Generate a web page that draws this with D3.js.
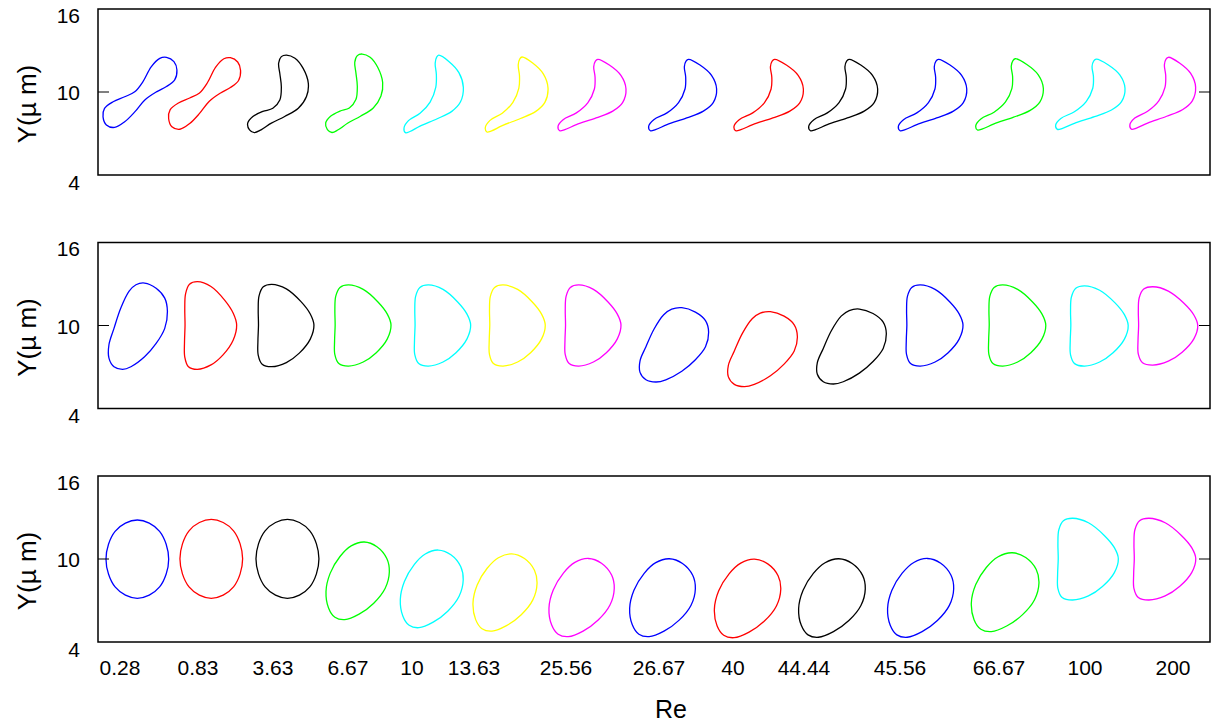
<!DOCTYPE html>
<html>
<head>
<meta charset="utf-8">
<script src="https://cdn.jsdelivr.net/npm/d3@7"></script>
<style>
  body { margin: 0; background: #fff; }
  text { font-family: "Liberation Sans", Arial, sans-serif; fill: #000; }
</style>
</head>
<body>
<svg id="chart"></svg>
<script>
// Re values under the bottom panel, and where they sit along the strip (um)
const reLabels = ["0.28", "0.83", "3.63", "6.67", "10", "13.63", "25.56", "26.67", "40", "44.44", "45.56", "66.67", "100", "200"];
const reTickX = [1.58, 7.19, 12.59, 17.99, 22.59, 27.05, 33.67, 40.36, 45.68, 50.79, 57.7, 64.82, 71.01, 77.34];

const cellColors = ["#0000ff", "#ff0000", "#000000", "#00ff00", "#00ffff", "#ffff00", "#ff00ff",
                    "#0000ff", "#ff0000", "#000000", "#0000ff", "#00ff00", "#00ffff", "#ff00ff"];

const yTicks = [4, 10, 16];

// outline templates, unit box [-1,1], y up
const templates = {
    S: [[0.71, 1.0], [0.91, 0.88], [0.99, 0.64], [0.93, 0.36], [0.71, 0.17], [0.44, 0.02], [0.13, -0.21],
        [-0.14, -0.55], [-0.41, -0.83], [-0.68, -0.99], [-0.9, -0.92], [-0.99, -0.69], [-0.95, -0.45],
        [-0.72, -0.26], [-0.41, -0.12], [-0.14, 0.02], [0.08, 0.31], [0.3, 0.73], [0.53, 0.97]],
    crescA: [[0.28, 1.0], [0.56, 0.92], [0.83, 0.66], [1.0, 0.28], [0.94, -0.06], [0.67, -0.36], [0.22, -0.57],
        [-0.22, -0.74], [-0.56, -0.91], [-0.78, -0.98], [-0.94, -0.91], [-1.0, -0.74], [-0.83, -0.57],
        [-0.5, -0.44], [-0.17, -0.36], [0.06, -0.15], [0.11, 0.19], [0.06, 0.53], [0.02, 0.79], [0.11, 0.96]],
    crescB: [[0.17, 1.0], [0.51, 0.84], [0.85, 0.55], [1.0, 0.17], [0.9, -0.21], [0.61, -0.45], [0.12, -0.64],
        [-0.46, -0.83], [-0.8, -0.97], [-0.95, -1.0], [-1.0, -0.88], [-0.85, -0.69], [-0.46, -0.5],
        [-0.12, -0.21], [0.07, 0.17], [0.09, 0.5], [0.05, 0.79], [0.1, 0.95]],
    egg: [[0.22, 1.0], [0.61, 0.88], [0.9, 0.65], [0.99, 0.34], [0.9, -0.05], [0.61, -0.4], [0.22, -0.71],
        [-0.24, -0.94], [-0.52, -1.0], [-0.81, -0.94], [-0.98, -0.74], [-0.98, -0.43], [-0.81, -0.05],
        [-0.58, 0.42], [-0.3, 0.81], [-0.07, 0.96]],
    D: [[-0.5, 1.0], [0.02, 0.89], [0.54, 0.58], [0.87, 0.28], [1.0, 0.01], [0.87, -0.33], [0.48, -0.67],
        [0.02, -0.9], [-0.5, -1.0], [-0.84, -0.94], [-0.98, -0.72], [-0.99, -0.37], [-0.97, 0.01],
        [-0.98, 0.39], [-0.95, 0.72], [-0.8, 0.94]],
    ellipse: [[0, 1], [0.38, 0.92], [0.71, 0.71], [0.92, 0.38], [1, 0], [0.92, -0.38], [0.71, -0.71],
        [0.38, -0.92], [0, -1], [-0.38, -0.92], [-0.71, -0.71], [-0.92, -0.38], [-1, 0], [-0.92, 0.38],
        [-0.71, 0.71], [-0.38, 0.92]],
    tilt: [[0.21, 0.98], [0.61, 0.86], [0.92, 0.56], [1.0, 0.22], [0.87, -0.2], [0.51, -0.58], [0.05, -0.86],
        [-0.4, -1.0], [-0.71, -0.94], [-0.91, -0.7], [-0.99, -0.28], [-0.86, 0.18], [-0.55, 0.61], [-0.2, 0.88]]
};

// top panel: centre x, centre y, width, height (um)
const p1Shape = ["S", "S", "crescA", "crescA", "crescB", "crescB", "crescB", "crescB", "crescB", "crescB", "crescB", "crescB", "crescB", "crescB"];
const p1X = [3.02, 7.67, 12.95, 18.43, 24.15, 30.12, 35.54, 42.06, 48.25, 53.61, 60.04, 65.58, 71.39, 76.6];
const p1Y = [9.96, 9.88, 9.84, 9.88, 9.86, 9.82, 9.78, 9.78, 9.78, 9.78, 9.78, 9.83, 9.84, 9.91];
const p1W = [5.37, 5.23, 4.36, 4.1, 4.27, 4.51, 4.89, 4.89, 4.99, 4.96, 4.92, 4.86, 4.99, 4.73];
const p1H = [5.09, 5.2, 5.66, 5.73, 5.6, 5.42, 5.16, 5.16, 5.16, 5.16, 5.16, 5.15, 5.08, 5.2];

// middle panel
const p2Shape = ["egg", "D", "D", "D", "D", "D", "D", "egg", "egg", "egg", "D", "D", "D", "D"];
const p2X = [2.88, 8.09, 13.51, 19.04, 24.78, 30.15, 35.6, 41.45, 47.82, 54.22, 60.18, 66.12, 72.02, 76.96];
const p2Y = [9.95, 10.0, 10.0, 10.0, 10.0, 10.0, 10.0, 8.6, 8.29, 8.48, 10.0, 10.0, 9.97, 9.97];
const p2W = [4.27, 3.77, 4.05, 4.08, 4.06, 4.05, 4.05, 5.01, 5.04, 5.04, 4.1, 4.13, 4.19, 4.32];
const p2H = [6.24, 6.33, 5.96, 5.86, 5.86, 5.86, 5.86, 5.37, 5.42, 5.42, 5.86, 5.86, 5.8, 5.66];

// bottom panel
const p3Shape = ["ellipse", "ellipse", "ellipse", "tilt", "tilt", "tilt", "tilt", "tilt", "tilt", "tilt", "tilt", "tilt", "D", "D"];
const p3X = [2.83, 8.15, 13.63, 18.67, 24.0, 29.27, 34.78, 40.6, 46.72, 52.79, 59.17, 65.25, 71.21, 76.73];
const p3Y = [9.99, 10.01, 10.01, 8.45, 7.87, 7.61, 7.24, 7.23, 7.18, 7.21, 7.22, 7.63, 9.99, 9.99];
const p3W = [4.51, 4.51, 4.53, 4.58, 4.55, 4.63, 4.72, 4.75, 4.8, 4.82, 4.78, 4.89, 4.39, 4.49];
const p3H = [5.66, 5.71, 5.71, 5.67, 5.67, 5.64, 5.71, 5.69, 5.74, 5.73, 5.75, 5.76, 5.91, 5.91];

const panels = [
    { shape: p1Shape, x: p1X, y: p1Y, w: p1W, h: p1H },
    { shape: p2Shape, x: p2X, y: p2Y, w: p2W, h: p2H },
    { shape: p3Shape, x: p3X, y: p3Y, w: p3W, h: p3H }
];

const width = 1211, height = 725;
const left = 98, right = 1210;
const panelTops = [9, 242.5, 476];
const panelH = 166;

const svg = d3.select("#chart")
    .attr("width", width)
    .attr("height", height);

const x = d3.scaleLinear()
    .domain([0, 80])
    .range([left, right]);

panels.forEach((p, pi) => {
    const top = panelTops[pi];
    const y = d3.scaleLinear()
        .domain([4, 16])
        .range([top + panelH, top]);

    const g = svg.append("g");

    // the cells
    p.shape.forEach((name, i) => {
        const line = d3.line()
            .x(d => x(p.x[i] + d[0] * p.w[i] / 2))
            .y(d => y(p.y[i] + d[1] * p.h[i] / 2))
            .curve(d3.curveCatmullRomClosed.alpha(0.5));
        g.append("path")
            .attr("d", line(templates[name]))
            .attr("fill", "none")
            .attr("stroke", cellColors[i])
            .attr("stroke-width", 1.3);
    });

    // frame
    g.append("rect")
        .attr("x", left)
        .attr("y", top)
        .attr("width", right - left)
        .attr("height", panelH)
        .attr("fill", "none")
        .attr("stroke", "#000")
        .attr("stroke-width", 1.5);

    // inner ticks at 10
    g.append("line")
        .attr("x1", left).attr("x2", left + 11)
        .attr("y1", y(10)).attr("y2", y(10))
        .attr("stroke", "#000");
    g.append("line")
        .attr("x1", right - 11).attr("x2", right)
        .attr("y1", y(10)).attr("y2", y(10))
        .attr("stroke", "#000");

    const yAxis = g.append("g")
        .attr("transform", `translate(${left},0)`)
        .call(d3.axisLeft(y).tickValues(yTicks).tickSize(0).tickPadding(18));
    yAxis.select(".domain").remove();
    yAxis.selectAll("text")
        .attr("font-size", "21px")
        .attr("font-family", "Liberation Sans, Arial, sans-serif")
        .attr("dy", d => d === 16 ? "0.62em" : d === 4 ? "0.68em" : "0.36em");

    g.append("text")
        .attr("transform", `translate(36, ${y(10) + 12}) rotate(-90)`)
        .attr("text-anchor", "middle")
        .attr("font-size", "26px")
        .text("Y(\u00b5 m)");
});

// Re labels under bottom panel
const xAxis = svg.append("g")
    .attr("transform", `translate(0, ${panelTops[2] + panelH})`);
xAxis.selectAll("text")
    .data(reLabels)
    .join("text")
    .attr("x", (d, i) => x(reTickX[i]))
    .attr("y", 33)
    .attr("text-anchor", "middle")
    .attr("font-size", "21px")
    .text(d => d);

svg.append("text")
    .attr("x", 671)
    .attr("y", 718)
    .attr("text-anchor", "middle")
    .attr("font-size", "25px")
    .text("Re");
</script>
</body>
</html>
